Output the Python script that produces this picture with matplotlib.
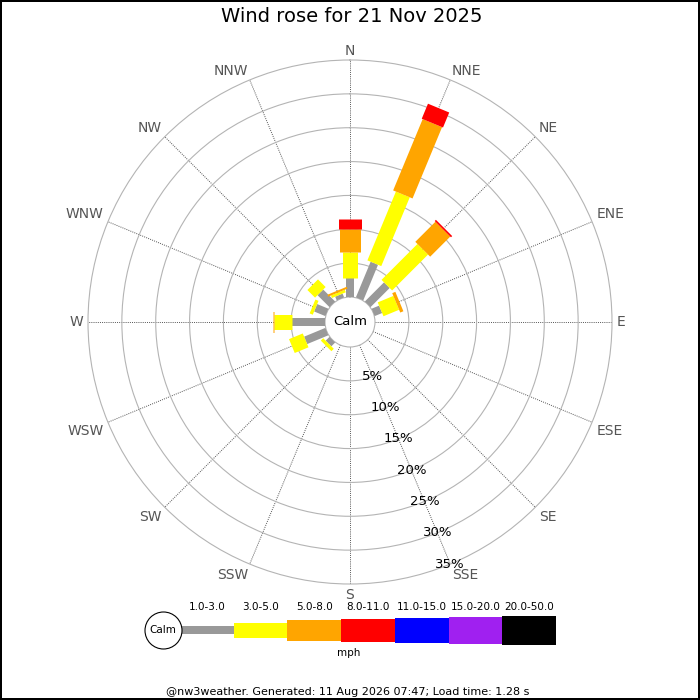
import numpy as np
import matplotlib
matplotlib.use("Agg")
import matplotlib.pyplot as plt

# wind rose for one day, % of time per direction and speed band
directions = ["N", "NNE", "NE", "ENE", "E", "ESE", "SE", "SSE",
              "S", "SSW", "SW", "WSW", "W", "WNW", "NW", "NNW"]
bearings = np.arange(16) * 22.5

speed_bands = ["1.0-3.0", "3.0-5.0", "5.0-8.0", "8.0-11.0",
               "11.0-15.0", "15.0-20.0", "20.0-50.0"]

# percent per band (not cumulative), same order as directions
band_1_3 = [2.8, 5.7, 4.0, 1.2, 0, 0, 0, 0, 0, 0, 0.8, 3.4, 4.8, 1.8, 2.5, 0.6]
band_3_5 = [3.8, 11.0, 7.5, 2.5, 0, 0, 0, 0, 0, 0, 0.5, 2.2, 2.7, 0.5, 1.6, 0.4]
band_5_8 = [3.5, 11.4, 4.2, 0.5, 0, 0, 0, 0, 0, 0, 0, 0, 0.2, 0, 0, 0.3]
band_8_11 = [1.4, 2.4, 0.25, 0, 0, 0, 0, 0, 0, 0, 0, 0, 0, 0, 0, 0]
band_11_15 = [0] * 16
band_15_20 = [0] * 16
band_20_50 = [0] * 16

ring_ticks = [5, 10, 15, 20, 25, 30, 35]

title = "Wind rose for 21 Nov 2025"
footer = "@nw3weather. Generated: 11 Aug 2026 07:47; Load time: 1.28 s"

# styles
band_colors = ["#999999", "#ffff00", "#ffa500", "#ff0000",
               "#0000ff", "#a020f0", "#000000"]
band_px = [8, 15, 21, 23, 25, 27, 29]  # bar thickness in pixels
DPI = 100
RMAX = 35
CALM_PX = 25
OUTER_PX = 262

bands = [band_1_3, band_3_5, band_5_8, band_8_11, band_11_15, band_15_20, band_20_50]

fig = plt.figure(figsize=(7, 7), dpi=DPI)
fig.patch.set_edgecolor("black")
fig.patch.set_linewidth(1.5)

# polar axes centred at (350, 322) px, outer radius 262 px
cx, cy = 350 / 700, 1 - 322 / 700
size = 2 * OUTER_PX / 700
ax = fig.add_axes([cx - size / 2, cy - size / 2, size, size], projection="polar")
ax.set_theta_zero_location("N")
ax.set_theta_direction(-1)
ax.set_ylim(0, RMAX)
r0 = CALM_PX * RMAX / (OUTER_PX - CALM_PX)
ax.set_rorigin(-r0)

ax.set_yticks(ring_ticks[:-1])
ax.set_yticklabels([])
ax.set_xticks(np.radians(bearings))
ax.set_xticklabels([])
ax.tick_params(length=0)
ax.yaxis.grid(True, color="#b4b4b4", linewidth=0.8, linestyle="-")
ax.xaxis.grid(True, color="#555555", linewidth=0.7, linestyle=(0, (1, 1.2)))
ax.spines["polar"].set_color("#b4b4b4")
ax.spines["polar"].set_linewidth(0.8)
ax.spines["inner"].set_color("#b4b4b4")
ax.spines["inner"].set_linewidth(0.8)
ax.set_axisbelow(True)

# stacked bars as thick radial lines (constant pixel width)
for i, b in enumerate(bearings):
    start = 0.0
    th = np.radians(b)
    for band, col, px in zip(bands, band_colors, band_px):
        v = band[i]
        if v <= 0:
            continue
        ax.plot([th, th], [start, start + v], color=col,
                linewidth=px * 72 / DPI, solid_capstyle="butt", zorder=3)
        start += v

# direction labels just outside the outer ring
for d, b in zip(directions, bearings):
    s, c = np.sin(np.radians(b)), np.cos(np.radians(b))
    ha = "left" if s > 0.3 else ("right" if s < -0.3 else "center")
    va = "bottom" if c > 0.3 else ("top" if c < -0.3 else "center")
    dy = 1.5 * c if c > 0 else 3.0 * c
    ax.annotate(d, xy=(np.radians(b), RMAX), xytext=(3.5 * s, dy),
                textcoords="offset points", ha=ha, va=va,
                fontsize=10, color="#555555", annotation_clip=False)

# ring labels along SSE
for t in ring_ticks:
    ax.text(np.radians(157.5), t, f"{t}%", ha="center", va="center",
            fontsize=9.5, color="black", zorder=5)

ax.text(0.5, 0.5, "Calm", transform=ax.transAxes, ha="center", va="center",
        fontsize=9.5, color="black")

fig.text(352 / 700, 1 - 17 / 700, title, ha="center", va="center", fontsize=14)

# legend strip
lg = fig.add_axes([140 / 700, 1 - 665 / 700, 420 / 700, 70 / 700])
lg.set_xlim(-40 / 53.7, 380 / 53.7)
lg.set_ylim(-35, 35)
lg.axis("off")
for k, (lab, col, px) in enumerate(zip(speed_bands, band_colors, band_px)):
    lg.bar(k, px, bottom=-px / 2, width=1.0, align="edge", color=col,
           linewidth=0)
    lg.text(k + 0.5, 23, lab, ha="center", va="center", fontsize=7.5)
lg.plot([-17.5 / 53.7], [0], "o", markersize=37 * 72 / DPI,
        markerfacecolor="white", markeredgecolor="black", markeredgewidth=0.8,
        zorder=4)
lg.text(-17.5 / 53.7, 0, "Calm", ha="center", va="center", fontsize=7.5,
        zorder=5)
lg.text(3.15, -23, "mph", ha="center", va="center", fontsize=7.5)

fig.text(348 / 700, 1 - 692 / 700, footer, ha="center", va="center", fontsize=8)

fig.savefig("out.png", dpi=DPI, edgecolor=fig.get_edgecolor())
